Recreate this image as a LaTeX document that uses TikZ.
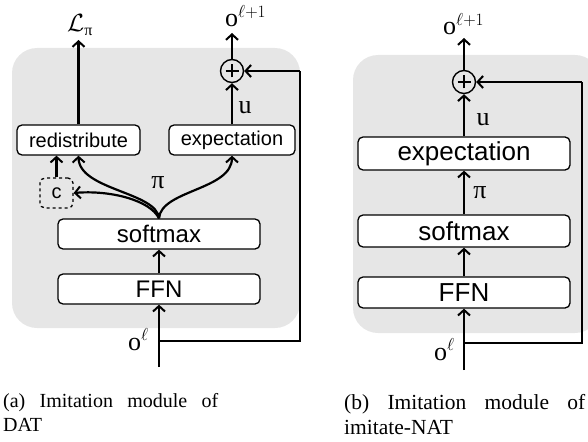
\documentclass[tikz,border=0pt]{standalone}
\usepackage{fontspec}
\setmainfont{Liberation Serif}
\setsansfont{Liberation Sans}
\usetikzlibrary{arrows.meta}
\definecolor{panel}{RGB}{230,230,230}
\begin{document}
\begin{tikzpicture}[x=1pt,y=-1pt,
  conn/.style={line width=2.2pt,-{Straight Barb[length=5.5pt,width=12pt,line width=2pt]}},
  wire/.style={line width=2.2pt},
  blk/.style={draw,line width=1.3pt,rounded corners=5pt,fill=white,inner sep=0pt},
  dblk/.style={blk,dashed,fill=none},
  fsmall/.style={font=\sffamily\fontsize{20}{20}\selectfont},
  fmid/.style={font=\sffamily\fontsize{24}{24}\selectfont},
  fbig/.style={font=\sffamily\fontsize{26}{26}\selectfont},
  mlab/.style={font=\fontsize{26}{26}\selectfont,inner sep=0pt},
  captxt/.style={font=\fontsize{20}{20}\selectfont,inner sep=0pt,anchor=base west},
  captxtb/.style={font=\fontsize{21.5}{21.5}\selectfont,inner sep=0pt,anchor=base west},
  plusnode/.style={circle,draw,line width=1.4pt,minimum size=23pt,inner sep=0pt,
    path picture={\draw[line width=2pt] (path picture bounding box.center) ++(-6.5pt,0pt) -- ++(13pt,0pt);
                  \draw[line width=2pt] (path picture bounding box.center) ++(0pt,-6.5pt) -- ++(0pt,13pt);}}
]
\useasboundingbox (0,0) rectangle (588,441);
% panels
\fill[panel,rounded corners=25pt] (12,48) rectangle (300,328);
\fill[panel,rounded corners=25pt] (353,55) rectangle (600,333);

% ---------- left (DAT) ----------
\node[blk,fsmall,minimum width=123pt,minimum height=30pt] (red) at (78.5,140) {redistribute};
\node[blk,fsmall,minimum width=126pt,minimum height=30pt] (expa) at (232,140) {expectation};
\node[dblk,fsmall,minimum width=33pt,minimum height=30pt] (cbox) at (56.5,193) {c};
\node[blk,fmid,minimum width=202pt,minimum height=30pt] (sma) at (159,234) {softmax};
\node[blk,fmid,minimum width=202pt,minimum height=30pt] (ffna) at (159,289) {FFN};
\node[plusnode] (pa) at (232,71) {};

\node[font=\fontsize{25}{25}\selectfont,inner sep=0pt] (lpi) at (80,25) {$\mathcal{L}_{\mbox{\fontsize{16}{16}\selectfont π}}$};
\node[mlab,anchor=base west] (oa) at (225,27) {$\mathrm{o}^{\ell+1}$};
\node[mlab] (ua) at (245,108) {u};
\node[mlab] (pia) at (158,183) {π};
\node[mlab,anchor=base east] (ina) at (149,350) {$\mathrm{o}^{\ell}$};

\coordinate (a0) at (159,367);
\coordinate (a1) at (159,341);
\coordinate (a2) at (300,341);
\coordinate (a3) at (300,71);
\coordinate (lt) at (78.5,40);
\coordinate (ot) at (232,33);

\draw[conn] (a0) -- (ffna.south);
\draw[conn] (ffna.north) -- (sma.south);
\draw[conn] (sma.north) .. controls (157,192) and (79,190) .. (red.south);
\draw[conn] (sma.north) .. controls (161,190) and (232,190) .. (expa.south);
\draw[conn] (sma.north) .. controls (150,200) and (110,190) .. (cbox.east);
\draw[conn] (cbox.north) -- (cbox.north |- red.south);
\draw[conn] (red.north) -- (lt);
\draw[conn] (expa.north) -- (pa.south);
\draw[conn] (pa.north) -- (ot);
\draw[wire] (a1) -- (a2) -- (a3);
\draw[conn] (a3) -- (pa.east);

% ---------- right (imitate-NAT) ----------
\node[blk,fbig,minimum width=212pt,minimum height=33pt] (expb) at (464,153.5) {expectation};
\node[blk,fbig,minimum width=212pt,minimum height=32pt] (smb) at (464,231) {softmax};
\node[blk,fbig,minimum width=212pt,minimum height=31pt] (ffnb) at (464,292.5) {FFN};
\node[plusnode] (pb) at (464,82) {};

\node[mlab,anchor=base west] (ob) at (443,35) {$\mathrm{o}^{\ell+1}$};
\node[mlab] (ub) at (483,120) {u};
\node[mlab] (pib) at (480,193) {π};
\node[mlab,anchor=base east] (inb) at (455,360) {$\mathrm{o}^{\ell}$};

\coordinate (b0) at (464,370);
\coordinate (b1) at (464,343);
\coordinate (b2) at (582,343);
\coordinate (b3) at (582,82);
\coordinate (ob2) at (464,38);

\draw[conn] (b0) -- (ffnb.south);
\draw[conn] (ffnb.north) -- (smb.south);
\draw[conn] (smb.north) -- (expb.south);
\draw[conn] (expb.north) -- (pb.south);
\draw[conn] (pb.north) -- (ob2);
\draw[wire] (b1) -- (b2) -- (b3);
\draw[conn] (b3) -- (pb.east);

% ---------- captions ----------
\node[captxt] (capa1) at (3,407) {\makebox[215pt][s]{(a) Imitation module of}};
\node[captxt] (capa2) at (3,431) {DAT};
\node[captxtb] (capb1) at (344,409) {\makebox[241pt][s]{(b) Imitation module of}};
\node[captxtb] (capb2) at (344,434) {imitate-NAT};
\end{tikzpicture}
\end{document}
